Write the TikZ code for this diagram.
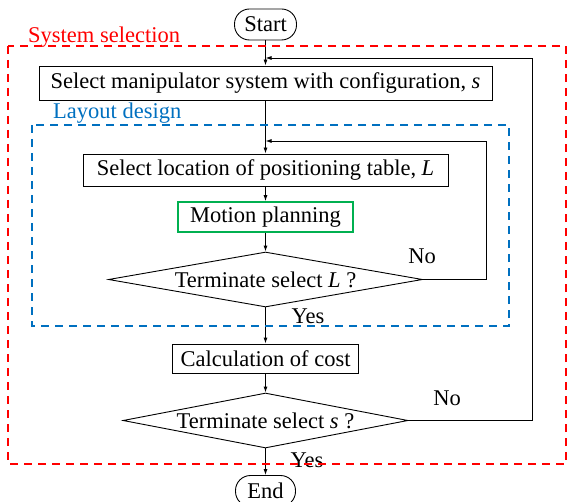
\documentclass[tikz,border=0pt]{standalone}
\usepackage{fontspec}
\setmainfont{Liberation Serif}
\usetikzlibrary{arrows.meta,shapes.geometric}
\definecolor{selred}{RGB}{255,0,0}
\definecolor{layblue}{RGB}{0,112,192}
\definecolor{plangreen}{RGB}{0,176,80}
\begin{document}
\begin{tikzpicture}[x=1pt,y=-1pt,
  font=\fontsize{22.5}{27}\selectfont,
  procbox/.style={draw, line width=0.9pt, inner xsep=3pt, inner ysep=0pt},
  termbox/.style={procbox, rounded corners=15pt},
  decbox/.style={draw, diamond, line width=0.9pt, inner sep=0pt},
  flow/.style={line width=0.9pt, -{Latex[length=6pt,width=4pt]}},
  frame/.style={line width=2pt, dash pattern=on 8pt off 6pt}]
\useasboundingbox (0,0) rectangle (569,502);

% flowchart steps
\node[termbox, minimum width=62pt, minimum height=31pt] (start) at (265.5,24.5) {Start};
\node[procbox, minimum width=453pt, minimum height=34pt] (sys) at (265.5,83) {Select manipulator system with configuration, \textit{s}};
\node[procbox, minimum width=365pt, minimum height=32pt] (loc) at (265.5,170) {Select location of positioning table, \textit{L}};
\node[procbox, draw=plangreen, line width=1.6pt, minimum width=175pt, minimum height=30pt] (mot) at (265.5,217) {Motion planning};
\node[decbox, aspect=5.7, minimum width=314pt, minimum height=55pt] (decL) at (265.5,279.5) {Terminate select \textit{L} ?};
\node[procbox, minimum width=186pt, minimum height=29pt] (calc) at (265.5,358.5) {Calculation of cost};
\node[decbox, aspect=5.2, minimum width=285pt, minimum height=55pt] (decS) at (265.5,420.5) {Terminate select \textit{s} ?};
\node[termbox, minimum width=60pt, minimum height=31pt] (stop) at (265.5,491) {End};

% loop return points and outer corners
\coordinate (joinS) at (265.5,58);
\coordinate (joinL) at (265.5,141);
\coordinate (cornS) at (532,420.5);
\coordinate (cornL) at (486,279.5);

% main flow
\draw[flow] (start) -- (sys);
\draw[flow] (sys) -- (loc);
\draw[flow] (loc) -- (mot);
\draw[flow] (mot) -- (decL);
\draw[flow] (decL) -- (calc);
\draw[flow] (calc) -- (decS);
\draw[flow] (decS) -- (stop);

% loops back
\draw[flow] (decL.east) -- (cornL) |- (joinL);
\draw[flow] (decS.east) -- (cornS) |- (joinS);

% branch labels
\node[anchor=base] (noL) at (422,263) {No};
\node[anchor=base] (yesL) at (308,323) {Yes};
\node[anchor=base] (noS) at (447,405) {No};
\node[anchor=base] (yesS) at (307,467) {Yes};

% group titles
\node[anchor=base west, text=selred, inner sep=0pt] (titleS) at (28,43) {System selection};
\node[anchor=base west, text=layblue, inner sep=0pt] (titleL) at (53,119) {Layout design};

% group frames
\draw[frame, draw=layblue] (32,125) rectangle (509,326);
\draw[frame, draw=selred] (8,46) rectangle (566,464);
\end{tikzpicture}
\end{document}
